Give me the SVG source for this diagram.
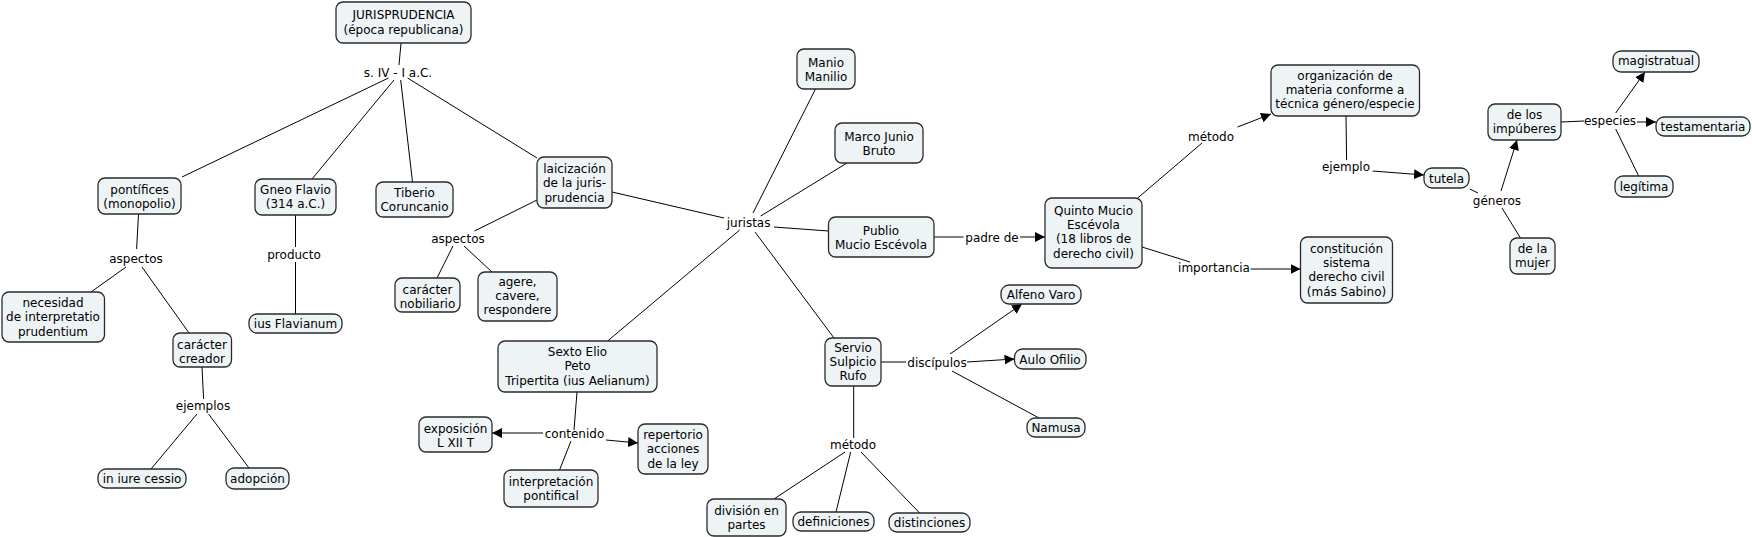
<svg xmlns="http://www.w3.org/2000/svg" width="1752" height="537" viewBox="0 0 1752 537">
<defs>
<marker id="ah" markerUnits="userSpaceOnUse" markerWidth="11" markerHeight="10" refX="10" refY="5" orient="auto"><path d="M0,0 L10,5 L0,10 z" fill="#000"/></marker>
<style>
rect{fill:#EEF3F5;stroke:#2a2a2a;stroke-width:1.3}
text{font-family:"DejaVu Sans","Verdana",sans-serif;font-size:12px;fill:#000;text-anchor:middle}
#connectors line{stroke:#000;stroke-width:1}
#connectors line.a{marker-end:url(#ah)}
</style>
</defs>
<rect width="1752" height="537" style="fill:#fff;stroke:none"/>
<g id="connectors">
<line x1="401" y1="43" x2="399" y2="65"/>
<line x1="388.5" y1="78" x2="182" y2="177"/>
<line x1="394" y1="80" x2="312" y2="179"/>
<line x1="400.7" y1="80" x2="412.5" y2="182"/>
<line x1="407.6" y1="78" x2="537" y2="158"/>
<line x1="138.5" y1="214" x2="136.6" y2="249"/>
<line x1="295.5" y1="215" x2="295.5" y2="247"/>
<line x1="537" y1="200" x2="474.5" y2="231"/>
<line x1="126" y1="267" x2="91" y2="292"/>
<line x1="142" y1="267" x2="189" y2="333"/>
<line x1="295.5" y1="262" x2="295.5" y2="314"/>
<line x1="453" y1="246" x2="437" y2="278"/>
<line x1="464" y1="246" x2="492" y2="272"/>
<line x1="202" y1="367" x2="203.6" y2="399"/>
<line x1="197" y1="414" x2="151" y2="469"/>
<line x1="208.6" y1="414" x2="249" y2="468"/>
<line x1="612" y1="192" x2="724" y2="218"/>
<line x1="753" y1="213" x2="815.5" y2="89"/>
<line x1="760.7" y1="216" x2="847" y2="163"/>
<line x1="774" y1="227" x2="828.5" y2="231"/>
<line x1="739.7" y1="230" x2="607.6" y2="341"/>
<line x1="755" y1="232" x2="834" y2="338"/>
<line x1="577" y1="392" x2="574" y2="430"/>
<line x1="571" y1="441" x2="559.5" y2="470"/>
<line class="a" x1="543" y1="433" x2="492" y2="433"/>
<line class="a" x1="606" y1="440" x2="638" y2="443"/>
<line x1="934" y1="237" x2="963.5" y2="237"/>
<line class="a" x1="1020" y1="237" x2="1045" y2="237"/>
<line x1="1137.7" y1="198" x2="1202" y2="143"/>
<line class="a" x1="1237.5" y1="127" x2="1271" y2="114"/>
<line x1="1142" y1="247" x2="1190" y2="262"/>
<line class="a" x1="1250.6" y1="269" x2="1300.5" y2="269"/>
<line x1="1346" y1="116" x2="1346.6" y2="160"/>
<line class="a" x1="1372.7" y1="171" x2="1424" y2="175"/>
<line x1="1469.8" y1="189" x2="1478" y2="193"/>
<line class="a" x1="1501" y1="191" x2="1517" y2="140"/>
<line x1="1502" y1="208" x2="1520.5" y2="238"/>
<line x1="1561" y1="122" x2="1584" y2="121"/>
<line class="a" x1="1615.7" y1="113" x2="1645" y2="72"/>
<line class="a" x1="1637" y1="122" x2="1656" y2="122"/>
<line x1="1615.7" y1="129" x2="1638.7" y2="176"/>
<line x1="881" y1="362" x2="906" y2="362"/>
<line class="a" x1="950" y1="354" x2="1022" y2="304"/>
<line class="a" x1="967" y1="362" x2="1014.5" y2="359"/>
<line x1="952" y1="371" x2="1039" y2="418"/>
<line x1="853.7" y1="386" x2="853.7" y2="438"/>
<line x1="845" y1="452" x2="774" y2="499"/>
<line x1="850.7" y1="452" x2="836" y2="512"/>
<line x1="861" y1="452" x2="919.6" y2="513"/>
</g>
<g id="labels">
<text x="398" y="76.5">s. IV - I a.C.</text>
<text x="136" y="262.5">aspectos</text>
<text x="294" y="258.5">producto</text>
<text x="458" y="242.5">aspectos</text>
<text x="203" y="409.5">ejemplos</text>
<text x="574.5" y="437.5">contenido</text>
<text x="748.6" y="226.5">juristas</text>
<text x="992" y="241.5">padre de</text>
<text x="937" y="366.5">discípulos</text>
<text x="853" y="448.5">método</text>
<text x="1211" y="140.5">método</text>
<text x="1214" y="271.5">importancia</text>
<text x="1346" y="170.5">ejemplo</text>
<text x="1497" y="204.5">géneros</text>
<text x="1610" y="124.5">especies</text>
</g>
<g id="n-jur"><rect x="336" y="2" width="135" height="41" rx="7"/><text x="403.5" y="18.5">JURISPRUDENCIA</text><text x="403.5" y="33.5">(época republicana)</text></g>
<g id="n-pont"><rect x="98" y="178" width="83" height="36" rx="7"/><text x="139.5" y="193.5">pontífices</text><text x="139.5" y="207.5">(monopolio)</text></g>
<g id="n-gneo"><rect x="255" y="179" width="81" height="36" rx="7"/><text x="295.5" y="194">Gneo Flavio</text><text x="295.5" y="208">(314 a.C.)</text></g>
<g id="n-tib"><rect x="376" y="182" width="77" height="35" rx="7"/><text x="414.5" y="197">Tiberio</text><text x="414.5" y="211">Coruncanio</text></g>
<g id="n-laic"><rect x="537" y="157" width="75" height="51" rx="7"/><text x="574.5" y="172.5">laicización</text><text x="574.5" y="187">de la juris-</text><text x="574.5" y="201.5">prudencia</text></g>
<g id="n-nec"><rect x="2" y="292" width="102.5" height="50" rx="7"/><text x="53" y="306.5">necesidad</text><text x="53" y="321">de interpretatio</text><text x="53" y="335.5">prudentium</text></g>
<g id="n-carcr"><rect x="173" y="333" width="58.5" height="34" rx="7"/><text x="202" y="348.5">carácter</text><text x="202" y="362.5">creador</text></g>
<g id="n-iure"><rect x="98" y="469" width="88" height="19" rx="8"/><text x="142" y="483">in iure cessio</text></g>
<g id="n-adop"><rect x="226" y="468" width="63" height="21" rx="8"/><text x="257.5" y="483">adopción</text></g>
<g id="n-iusfl"><rect x="249" y="314" width="93" height="19" rx="8"/><text x="295.5" y="327.5">ius Flavianum</text></g>
<g id="n-carnob"><rect x="395" y="278" width="65" height="34" rx="7"/><text x="427.5" y="293.5">carácter</text><text x="427.5" y="307.5">nobiliario</text></g>
<g id="n-agere"><rect x="478" y="272" width="79" height="49" rx="7"/><text x="517.5" y="285.5">agere,</text><text x="517.5" y="299.5">cavere,</text><text x="517.5" y="313.5">respondere</text></g>
<g id="n-sexto"><rect x="498" y="341" width="159" height="51" rx="7"/><text x="577.5" y="355.5">Sexto Elio</text><text x="577.5" y="370">Peto</text><text x="577.5" y="384.5">Tripertita (ius Aelianum)</text></g>
<g id="n-expo"><rect x="419" y="417" width="73" height="35" rx="7"/><text x="455.5" y="432.5">exposición</text><text x="455.5" y="446.5">L XII T</text></g>
<g id="n-interp"><rect x="504" y="470" width="94" height="37" rx="7"/><text x="551" y="485.5">interpretación</text><text x="551" y="499.5">pontifical</text></g>
<g id="n-repert"><rect x="638" y="424" width="70" height="50" rx="7"/><text x="673" y="438.5">repertorio</text><text x="673" y="453">acciones</text><text x="673" y="467.5">de la ley</text></g>
<g id="n-manio"><rect x="797" y="49" width="58" height="40" rx="7"/><text x="826" y="66.5">Manio</text><text x="826" y="80.5">Manilio</text></g>
<g id="n-marco"><rect x="835" y="123" width="88" height="40" rx="7"/><text x="879" y="140.5">Marco Junio</text><text x="879" y="154.5">Bruto</text></g>
<g id="n-publio"><rect x="828.5" y="217" width="105.5" height="40" rx="7"/><text x="881" y="234.5">Publio</text><text x="881" y="248.5">Mucio Escévola</text></g>
<g id="n-quinto"><rect x="1045" y="198" width="97" height="70" rx="7"/><text x="1093.5" y="214.5">Quinto Mucio</text><text x="1093.5" y="228.5">Escévola</text><text x="1093.5" y="243">(18 libros de</text><text x="1093.5" y="257.5">derecho civil)</text></g>
<g id="n-servio"><rect x="825" y="338" width="56" height="48" rx="7"/><text x="853" y="351.5">Servio</text><text x="853" y="365.5">Sulpicio</text><text x="853" y="380">Rufo</text></g>
<g id="n-alfeno"><rect x="1001" y="285" width="80" height="19" rx="8"/><text x="1041" y="298.5">Alfeno Varo</text></g>
<g id="n-aulo"><rect x="1014.5" y="349" width="71.5" height="20" rx="8"/><text x="1050" y="363.5">Aulo Ofilio</text></g>
<g id="n-namusa"><rect x="1027" y="418" width="58" height="19" rx="8"/><text x="1056" y="431.5">Namusa</text></g>
<g id="n-division"><rect x="707" y="499" width="79" height="37" rx="7"/><text x="746.5" y="514.5">división en</text><text x="746.5" y="528.5">partes</text></g>
<g id="n-defin"><rect x="793" y="512" width="81" height="19" rx="8"/><text x="833.5" y="525.5">definiciones</text></g>
<g id="n-distin"><rect x="889" y="513" width="81" height="19" rx="8"/><text x="929.5" y="526.5">distinciones</text></g>
<g id="n-organiz"><rect x="1271" y="65" width="148.5" height="51" rx="7"/><text x="1345" y="79.5">organización de</text><text x="1345" y="93.5">materia conforme a</text><text x="1345" y="108">técnica género/especie</text></g>
<g id="n-tutela"><rect x="1424" y="168" width="45" height="20" rx="8"/><text x="1446.5" y="182.5">tutela</text></g>
<g id="n-impub"><rect x="1488" y="104" width="73" height="36" rx="7"/><text x="1524.5" y="118.5">de los</text><text x="1524.5" y="132.5">impúberes</text></g>
<g id="n-mujer"><rect x="1510" y="238" width="45" height="36" rx="7"/><text x="1532.5" y="252.5">de la</text><text x="1532.5" y="266.5">mujer</text></g>
<g id="n-magis"><rect x="1613" y="51" width="86" height="21" rx="8"/><text x="1656" y="65">magistratual</text></g>
<g id="n-testam"><rect x="1656" y="117" width="94" height="19" rx="8"/><text x="1703" y="131">testamentaria</text></g>
<g id="n-legit"><rect x="1615" y="176" width="58" height="21" rx="8"/><text x="1644" y="190.5">legítima</text></g>
<g id="n-const"><rect x="1300.5" y="237" width="92" height="66" rx="7"/><text x="1346.5" y="252.5">constitución</text><text x="1346.5" y="266.5">sistema</text><text x="1346.5" y="281">derecho civil</text><text x="1346.5" y="295.5">(más Sabino)</text></g>
</svg>
